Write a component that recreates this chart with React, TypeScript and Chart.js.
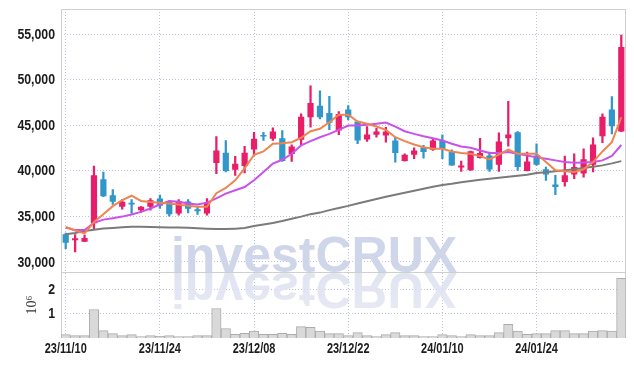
import React, { useEffect, useRef } from 'react';
import { Chart, registerables } from 'chart.js';

Chart.register(...registerables);

const dates = [
  '23/11/10', '23/11/13', '23/11/14', '23/11/15', '23/11/16', '23/11/17', '23/11/20', '23/11/21', '23/11/22', '23/11/23',
  '23/11/24', '23/11/27', '23/11/28', '23/11/29', '23/11/30', '23/12/01', '23/12/04', '23/12/05', '23/12/06', '23/12/07',
  '23/12/08', '23/12/11', '23/12/12', '23/12/13', '23/12/14', '23/12/15', '23/12/18', '23/12/19', '23/12/20', '23/12/21',
  '23/12/22', '23/12/26', '23/12/27', '23/12/28', '24/01/02', '24/01/03', '24/01/04', '24/01/05', '24/01/08', '24/01/09',
  '24/01/10', '24/01/11', '24/01/12', '24/01/15', '24/01/16', '24/01/17', '24/01/18', '24/01/19', '24/01/22', '24/01/23',
  '24/01/24', '24/01/25', '24/01/26', '24/01/29', '24/01/30', '24/01/31', '24/02/01', '24/02/02', '24/02/05', '24/02/06',
];

const opens = [
  33030, 32370, 32220, 34230, 39060, 37320, 36040, 36480, 35680, 36040,
  36960, 36660, 35320, 36630, 35790, 35320, 40850, 41980, 40120, 40520,
  42340, 43870, 43510, 43580, 41830, 43400, 45870, 47140, 46350, 44410,
  46710, 45400, 43430, 43950, 43870, 43320, 41060, 41760, 42560, 42310,
  43320, 42050, 40370, 40050, 41390, 41680, 40670, 43570, 44230, 39970,
  41680, 40160, 38480, 38770, 39580, 39690, 40670, 43790, 46710, 44300,
];
const highs = [
  33170, 33000, 32950, 40510, 39860, 37940, 36850, 36850, 36060, 36960,
  37320, 36700, 36850, 36850, 36040, 36960, 43760, 43320, 41580, 42670,
  44230, 44230, 44710, 44410, 42850, 46240, 49330, 48780, 48160, 46490,
  47140, 45450, 44850, 44670, 44770, 43680, 41870, 42530, 42780, 43510,
  43950, 42310, 41060, 42150, 43570, 42050, 44160, 47610, 44300, 42050,
  42960, 40410, 39500, 41610, 41870, 42420, 43620, 46240, 48130, 54900,
];
const lows = [
  31450, 31090, 32220, 33600, 37150, 36300, 35790, 35320, 35430, 35680,
  35860, 35020, 35130, 35380, 35210, 35130, 39690, 39860, 39500, 39750,
  41680, 43320, 43320, 41030, 41030, 42780, 44770, 45690, 44520, 43950,
  45580, 42960, 43210, 43680, 43140, 40950, 41060, 41320, 41390, 42230,
  41320, 40590, 39940, 40050, 41390, 39940, 39940, 42700, 40050, 39970,
  40590, 38950, 37390, 38300, 39140, 39310, 39860, 43070, 44050, 44300,
];
const closes = [
  32110, 32590, 32620, 39500, 37210, 36590, 36590, 36300, 36040, 36770,
  36150, 35240, 36690, 35820, 35570, 36520, 42230, 39970, 40780, 41980,
  43510, 43760, 44300, 41060, 42670, 45940, 47440, 45870, 45260, 46240,
  45870, 43320, 43980, 44300, 44300, 41940, 41760, 42230, 42050, 43320,
  42420, 40590, 40590, 42150, 41940, 40150, 43210, 43980, 40410, 41030,
  40670, 39580, 38220, 39500, 40410, 41250, 42890, 45940, 44880, 53590,
];

const ma5 = [
  33850, 33440, 33130, 34370, 35240, 36120, 36770, 37260, 36690, 36580,
  36500, 36410, 36300, 36150, 36040, 36040, 37540, 38110, 38950, 40260,
  41760, 42120, 42960, 43030, 43140, 43620, 44340, 44600, 45320, 46160,
  46160, 45400, 45150, 44850, 44490, 43680, 43250, 42890, 42590, 42420,
  42420, 42120, 41940, 41870, 41610, 41250, 41760, 42310, 41870, 41870,
  41870, 40950, 40050, 39940, 39860, 40160, 40950, 42120, 43140, 45870,
];
const ma20 = [
  33770, 33490, 33490, 34290, 34640, 34800, 34970, 35210, 35490, 35860,
  36300, 36690, 36610, 36410, 36300, 36500, 36960, 37500, 37860, 38220,
  38950, 39860, 40780, 41210, 41870, 42780, 43250, 43680, 44050, 44490,
  44960, 44960, 45040, 45150, 45290, 44850, 44340, 44050, 43790, 43570,
  43320, 42960, 42670, 42530, 42230, 41940, 41940, 42050, 41870, 41680,
  41470, 41320, 41140, 40950, 40890, 40920, 40950, 41140, 41630, 42830,
];
const ma60 = [
  33025, 33170, 33390, 33520, 33660, 33730, 33800, 33850, 33850, 33830,
  33800, 33780, 33770, 33750, 33690, 33640, 33600, 33600, 33650, 33710,
  33930, 34100, 34280, 34480, 34730, 34970, 35240, 35410, 35680, 35920,
  36150, 36410, 36660, 36910, 37150, 37370, 37590, 37810, 38030, 38240,
  38430, 38570, 38740, 38880, 39010, 39120, 39230, 39340, 39450, 39560,
  39750, 39850, 39940, 40050, 40160, 40300, 40430, 40590, 40810, 41060,
];

// volume in millions of shares (10^6)
const volumes = [
  0.14, 0.10, 0.10, 1.17, 0.30, 0.18, 0.10, 0.14, 0.06, 0.10,
  0.07, 0.10, 0.06, 0.06, 0.10, 0.10, 1.21, 0.39, 0.15, 0.19,
  0.28, 0.15, 0.15, 0.19, 0.15, 0.47, 0.44, 0.28, 0.18, 0.18,
  0.10, 0.22, 0.10, 0.06, 0.14, 0.22, 0.10, 0.10, 0.06, 0.06,
  0.14, 0.10, 0.06, 0.14, 0.10, 0.10, 0.22, 0.56, 0.28, 0.15,
  0.18, 0.18, 0.30, 0.30, 0.18, 0.18, 0.28, 0.30, 0.28, 2.45,
];

const priceTicks = [30000, 35000, 40000, 45000, 50000, 55000];
const volumeTicks = [1, 2];
const dateTickEvery = 10;

const UP = '#e81e69';
const DOWN = '#3196c9';
const GRID = '#bfc3d9';
const FRAME = '#cfcfcf';
const LABEL_FONT = "bold 15px 'Liberation Sans', Arial, sans-serif";

const framePlugin = {
  id: 'frameAndMark',
  beforeDatasetsDraw(chart: any) {
    const { ctx, chartArea } = chart;
    const py = chart.scales.y;
    ctx.save();
    // watermark
    const cx = 306;
    const base = py.bottom - 0.5;
    ctx.font = "bold 50px 'Liberation Sans', Arial, sans-serif";
    ctx.textAlign = 'center';
    ctx.textBaseline = 'alphabetic';
    ctx.fillStyle = '#d0d6ea';
    ctx.fillText('investCRUX', cx, base);
    // reflection
    ctx.save();
    ctx.beginPath();
    ctx.rect(chartArea.left, base, chartArea.right - chartArea.left, chartArea.bottom - base);
    ctx.clip();
    ctx.translate(0, base * 2 + 1);
    ctx.scale(1, -1);
    const g = ctx.createLinearGradient(0, base, 0, base - 45);
    g.addColorStop(0, 'rgba(222,226,240,0.95)');
    g.addColorStop(1, 'rgba(222,226,240,0.7)');
    ctx.fillStyle = g;
    ctx.fillText('investCRUX', cx, base);
    ctx.restore();
    // frame
    ctx.strokeStyle = FRAME;
    ctx.lineWidth = 1;
    ctx.strokeRect(
      Math.round(chartArea.left) + 0.5,
      Math.round(chartArea.top) + 0.5,
      Math.round(chartArea.right - chartArea.left) - 1,
      Math.round(chartArea.bottom - chartArea.top) - 1
    );
    ctx.beginPath();
    const sy = Math.round(py.bottom) + 0.5;
    ctx.moveTo(chartArea.left, sy);
    ctx.lineTo(chartArea.right, sy);
    ctx.stroke();
    ctx.restore();
  },
  afterDraw(chart: any) {
    const { ctx, chartArea } = chart;
    const { x, y, yv } = chart.scales;
    ctx.save();
    ctx.fillStyle = '#1c1c1c';
    ctx.font = LABEL_FONT;
    ctx.textBaseline = 'middle';
    const put = (text: string, px: number, py: number, sx: number, align: CanvasTextAlign) => {
      ctx.save();
      ctx.translate(px, py);
      ctx.scale(sx, 1);
      ctx.textAlign = align;
      ctx.fillText(text, 0, 0);
      ctx.restore();
    };
    const right = chartArea.left - 6;
    priceTicks.forEach((v) => put(v.toLocaleString('en-US'), right, y.getPixelForValue(v) + 0.5, 0.82, 'right'));
    volumeTicks.forEach((v) => put(String(v), right, yv.getPixelForValue(v) + 0.5, 0.82, 'right'));
    dates.forEach((d, i) => {
      if (i % dateTickEvery === 0) put(d, x.getPixelForValue(i), chartArea.bottom + 11, 0.73, 'center');
    });
    ctx.restore();
  },
};

export default function App() {
  const ref = useRef<HTMLCanvasElement | null>(null);

  useEffect(() => {
    if (!ref.current) return;
    const colors = opens.map((o, i) => (closes[i] >= o ? UP : DOWN));
    const chart = new Chart(ref.current, {
      type: 'bar',
      data: {
        labels: dates,
        datasets: [
          {
            type: 'line', label: 'MA5', data: ma5, yAxisID: 'y', borderColor: '#ef8451',
            borderWidth: 2, pointRadius: 0, order: 0, tension: 0,
          },
          {
            type: 'line', label: 'MA20', data: ma20, yAxisID: 'y', borderColor: '#ca52ec',
            borderWidth: 2, pointRadius: 0, order: 0, tension: 0,
          },
          {
            type: 'line', label: 'MA60', data: ma60, yAxisID: 'y', borderColor: '#7b7b7b',
            borderWidth: 2, pointRadius: 0, order: 0, tension: 0,
          },
          {
            type: 'bar', label: 'body', data: opens.map((o, i) => [o, closes[i]]), yAxisID: 'y',
            backgroundColor: colors, borderWidth: 0, grouped: false,
            barPercentage: 0.66, categoryPercentage: 1, order: 1, minBarLength: 1.5,
          },
          {
            type: 'bar', label: 'wick', data: lows.map((l, i) => [l, highs[i]]), yAxisID: 'y',
            backgroundColor: colors, borderWidth: 0, grouped: false,
            barThickness: 1.6, order: 2,
          },
          {
            type: 'bar', label: 'volume', data: volumes, yAxisID: 'yv',
            backgroundColor: '#d9d9d9', borderColor: '#acacac', borderWidth: 1, grouped: false,
            barPercentage: 1, categoryPercentage: 1, order: 3,
          },
        ] as any,
      },
      options: {
        animation: false,
        responsive: false,
        maintainAspectRatio: false,
        layout: { padding: { top: 1, right: 0, left: 0, bottom: 0 } },
        plugins: { legend: { display: false }, tooltip: { enabled: false } },
        scales: {
          x: {
            offset: true,
            grid: {
              offset: false,
              drawTicks: false,
              color: (c: any) => (c.index % dateTickEvery === 0 ? GRID : 'rgba(0,0,0,0)'),
            },
            border: { display: false, dash: [1, 2] },
            ticks: { display: false, autoSkip: false },
            afterFit: (s: any) => { s.height = 20; },
          },
          yv: {
            position: 'left',
            stack: 'panes',
            stackWeight: 1,
            min: 0,
            max: 2.7,
            grid: { color: GRID, drawTicks: false },
            border: { display: false, dash: [1, 2] },
            ticks: { display: false },
            afterBuildTicks: (s: any) => { s.ticks = volumeTicks.map((value) => ({ value })); },
            title: {
              display: true,
              text: '10\u2076',
              color: '#333',
              font: { family: "'Liberation Serif', 'DejaVu Serif', serif", size: 14 },
              padding: { top: 16, bottom: 0 },
            },
            afterFit: (s: any) => { s.width = 53; },
          },
          y: {
            position: 'left',
            stack: 'panes',
            stackWeight: 4,
            min: 28870,
            max: 57750,
            grid: { color: GRID, drawTicks: false },
            border: { display: false, dash: [1, 2] },
            ticks: { display: false },
            afterBuildTicks: (s: any) => { s.ticks = priceTicks.map((value) => ({ value })); },
            afterFit: (s: any) => { s.width = 53; },
          },
        } as any,
      },
      plugins: [framePlugin],
    });
    return () => chart.destroy();
  }, []);

  return (
    <div style={{ width: 618, height: 350 }}>
      <canvas ref={ref} width={618} height={350} style={{ display: 'block', width: 618, height: 350 }} />
    </div>
  );
}
